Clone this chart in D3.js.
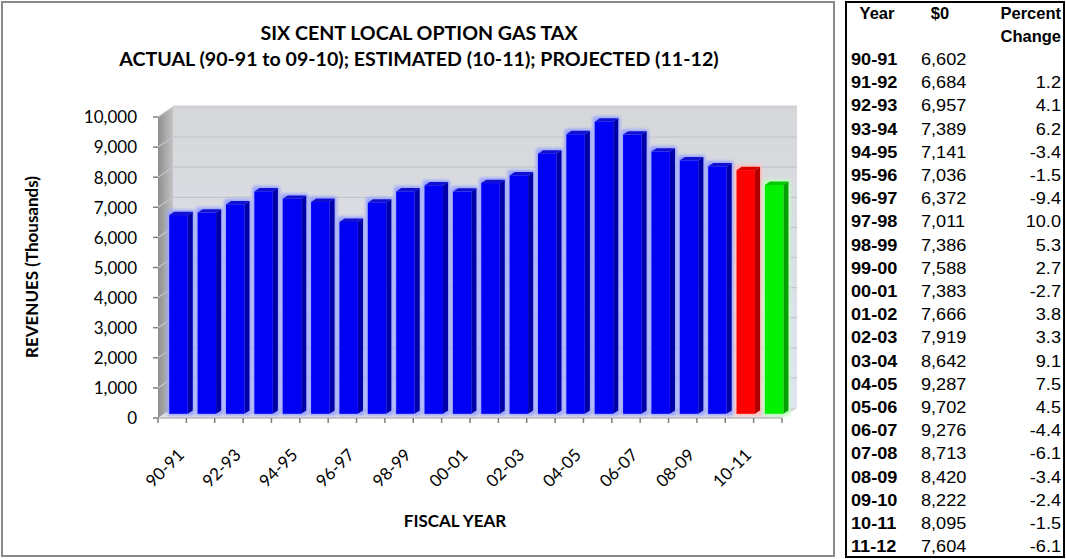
<!DOCTYPE html>
<html>
<head>
<meta charset="utf-8">
<script src="https://cdn.jsdelivr.net/npm/d3@7"></script>
<style>
  html, body { margin: 0; padding: 0; background: #ffffff; }
  svg { display: block; }
</style>
</head>
<body>
<svg id="chart" width="1066" height="559"></svg>
<script>
// Six cent local option gas tax revenues (thousands of dollars)
const years = ["90-91","91-92","92-93","93-94","94-95","95-96","96-97","97-98","98-99","99-00",
               "00-01","01-02","02-03","03-04","04-05","05-06","06-07","07-08","08-09","09-10",
               "10-11","11-12"];
const revenues = [6602, 6684, 6957, 7389, 7141, 7036, 6372, 7011, 7386, 7588,
                  7383, 7666, 7919, 8642, 9287, 9702, 9276, 8713, 8420, 8222,
                  8095, 7604];
const pctChange = [null, 1.2, 4.1, 6.2, -3.4, -1.5, -9.4, 10.0, 5.3, 2.7,
                   -2.7, 3.8, 3.3, 9.1, 7.5, 4.5, -4.4, -6.1, -3.4, -2.4,
                   -1.5, -6.1];
// actual, estimated (10-11), projected (11-12)
const status = years.map((y, i) => i < 20 ? "actual" : (i === 20 ? "estimated" : "projected"));
const yTicks = d3.range(0, 10001, 1000);
const xLabelYears = years.filter((d, i) => i % 2 === 0);
const titleLines = ["SIX CENT LOCAL OPTION  GAS TAX",
                    "ACTUAL (90-91 to 09-10); ESTIMATED (10-11); PROJECTED (11-12)"];
const tableHeader = [["Year", "$0", "Percent"], ["", "", "Change"]];

const palette = {
  actual:    { front: "#0000f4", side: "#0000a8", top: "#1010d0", glow: "#9aa4ff" },
  estimated: { front: "#ff0000", side: "#b00000", top: "#d80000", glow: "#ffc0c0" },
  projected: { front: "#00f000", side: "#00a000", top: "#00c800", glow: "#c0ffc0" }
};

const svg = d3.select("#chart");
const chartFont = "Lato, 'Open Sans', sans-serif";
const tableFont = "'Liberation Sans', Arial, sans-serif";

// ---- chart frame ----
svg.append("rect").attr("x", 2).attr("y", 2).attr("width", 832).attr("height", 554)
  .attr("fill", "#fff").attr("stroke", "#8a8a8a").attr("stroke-width", 2);

// ---- 3D geometry ----
const depth = { dx: 15, dy: -10 };
const x = d3.scaleBand().domain(years).range([158, 782]).paddingInner(0.35).paddingOuter(0.175);
const y = d3.scaleLinear().domain([0, 10000]).range([418, 117]);
const P = (px, py, z) => [px + depth.dx * z, py + depth.dy * z];
const xl = x.range()[0], xr = x.range()[1];
const y0 = y(0), yTop = y(10000);

const defs = svg.append("defs");
const wallGrad = defs.append("linearGradient").attr("id", "wallGrad")
  .attr("x1", 0).attr("y1", 0).attr("x2", 0).attr("y2", 1);
wallGrad.append("stop").attr("offset", 0).attr("stop-color", "#d6d7d9");
wallGrad.append("stop").attr("offset", 1).attr("stop-color", "#e1e5f3");
const sideWallGrad = defs.append("linearGradient").attr("id", "sideWallGrad")
  .attr("x1", 0).attr("y1", 0).attr("x2", 1).attr("y2", 0);
sideWallGrad.append("stop").attr("offset", 0).attr("stop-color", "#8e8e8e");
sideWallGrad.append("stop").attr("offset", 1).attr("stop-color", "#c4c4c4");
const floorGrad = defs.append("linearGradient").attr("id", "floorGrad")
  .attr("x1", 0).attr("y1", 0).attr("x2", 0).attr("y2", 1);
floorGrad.append("stop").attr("offset", 0).attr("stop-color", "#cfd1d6");
floorGrad.append("stop").attr("offset", 1).attr("stop-color", "#e6e6e6");
defs.append("filter").attr("id", "glow").attr("x", "-50%").attr("y", "-20%")
  .attr("width", "200%").attr("height", "140%")
  .append("feGaussianBlur").attr("stdDeviation", 1.6);

const poly = pts => pts.map(p => p.join(",")).join(" ");

// back wall
svg.append("polygon")
  .attr("points", poly([P(xl, yTop, 1), P(xr, yTop, 1), P(xr, y0, 1), P(xl, y0, 1)]))
  .attr("fill", "url(#wallGrad)");
// top rim of the back wall
svg.append("polygon")
  .attr("points", poly([P(xl, yTop, 1), P(xr, yTop, 1), [P(xr, yTop, 1)[0], P(xr, yTop, 1)[1] - 2], [P(xl, yTop, 1)[0], P(xl, yTop, 1)[1] - 2]]))
  .attr("fill", "#e4e4e4");
// side wall
svg.append("polygon")
  .attr("points", poly([P(xl, yTop, 0), P(xl, yTop, 1), P(xl, y0, 1), P(xl, y0, 0)]))
  .attr("fill", "url(#sideWallGrad)");
// floor
svg.append("polygon")
  .attr("points", poly([P(xl, y0, 0), P(xr, y0, 0), P(xr, y0, 1), P(xl, y0, 1)]))
  .attr("fill", "url(#floorGrad)");

// gridlines on back wall and side wall
const grid = svg.append("g");
yTicks.slice(1).forEach(t => {
  grid.append("polyline")
    .attr("points", poly([P(xl, y(t), 0), P(xl, y(t), 1), P(xr, y(t), 1)]))
    .attr("fill", "none").attr("stroke", "#c3c6cc").attr("stroke-width", 1.2);
});

// axis ticks
const axisG = svg.append("g");
yTicks.forEach(t => {
  axisG.append("line").attr("x1", xl - 5).attr("x2", xl).attr("y1", y(t)).attr("y2", y(t))
    .attr("stroke", "#7f7f7f").attr("stroke-width", 1.5);
  axisG.append("text").attr("x", 137).attr("y", y(t) + 2)
    .attr("text-anchor", "end").attr("dominant-baseline", "middle")
    .attr("font-family", chartFont).attr("font-size", 17).attr("fill", "#000")
    .text(d3.format(",")(t));
});
axisG.append("line").attr("x1", xl).attr("x2", xr).attr("y1", y0).attr("y2", y0)
  .attr("stroke", "#9a9a9a").attr("stroke-width", 1);
d3.range(years.length + 1).forEach(i => {
  const px = xl + x.step() * i;
  axisG.append("line").attr("x1", px).attr("x2", px).attr("y1", y0).attr("y2", y0 + 5)
    .attr("stroke", "#7f7f7f").attr("stroke-width", 1.5);
});

// bars
const zf = 0.42, zb = 0.76;
const bw = x.bandwidth();
const bars = svg.append("g");
years.forEach((yr, i) => {
  const v = revenues[i];
  const c = palette[status[i]];
  const [fx, fTop] = P(x(yr), y(v), zf);
  const fBot = P(x(yr), y0, zf)[1];
  const ddx = depth.dx * (zb - zf), ddy = depth.dy * (zb - zf);
  const g = bars.append("g");
  g.append("rect").attr("x", fx - 2).attr("y", fTop + ddy - 2)
    .attr("width", bw + ddx + 4).attr("height", fBot - fTop - ddy + 4)
    .attr("rx", 3).attr("fill", c.glow).attr("filter", "url(#glow)");
  g.append("polygon")
    .attr("points", poly([[fx + bw, fTop], [fx + bw + ddx, fTop + ddy], [fx + bw + ddx, fBot + ddy], [fx + bw, fBot]]))
    .attr("fill", c.side);
  g.append("polygon")
    .attr("points", poly([[fx, fTop], [fx + bw, fTop], [fx + bw + ddx, fTop + ddy], [fx + ddx, fTop + ddy]]))
    .attr("fill", c.top);
  g.append("rect").attr("x", fx).attr("y", fTop).attr("width", bw).attr("height", fBot - fTop)
    .attr("fill", c.front);
});

// x tick labels
const xLab = svg.append("g");
xLabelYears.forEach(yr => {
  const cx = x(yr) + bw / 2;
  xLab.append("text")
    .attr("transform", `translate(${cx + 13},${456}) rotate(-45)`)
    .attr("text-anchor", "end")
    .attr("font-family", chartFont).attr("font-size", 17).attr("fill", "#000")
    .text(yr);
});

// titles
svg.append("text").attr("x", 419).attr("y", 40).attr("text-anchor", "middle")
  .attr("font-family", chartFont).attr("font-weight", "bold").attr("font-size", 19.6)
  .text(titleLines[0]);
svg.append("text").attr("x", 419).attr("y", 66).attr("text-anchor", "middle")
  .attr("font-family", chartFont).attr("font-weight", "bold").attr("font-size", 19.6)
  .text(titleLines[1]);
svg.append("text").attr("transform", "translate(38,267) rotate(-90)").attr("text-anchor", "middle")
  .attr("font-family", chartFont).attr("font-weight", "bold").attr("font-size", 17)
  .text("REVENUES (Thousands)");
svg.append("text").attr("x", 455).attr("y", 527).attr("text-anchor", "middle")
  .attr("font-family", chartFont).attr("font-weight", "bold").attr("font-size", 17)
  .text("FISCAL YEAR");

// ---- data table ----
const tbl = svg.append("g");
tbl.append("rect").attr("x", 846).attr("y", 2).attr("width", 218).attr("height", 555)
  .attr("fill", "#fff").attr("stroke", "#000").attr("stroke-width", 2);
const fs = 16.5, sx = 1.1;
const cell = (px, py, txt, anchor, bold, stretch) => tbl.append("text")
  .attr("transform", `translate(${px},${py}) scale(${stretch},1)`)
  .attr("text-anchor", anchor)
  .attr("font-family", tableFont).attr("font-weight", bold ? "bold" : "normal")
  .attr("font-size", fs).attr("fill", "#000").text(txt);
cell(877, 19, tableHeader[0][0], "middle", true, 1);
cell(940, 19, tableHeader[0][1], "middle", true, 1);
cell(1061, 19, tableHeader[0][2], "end", true, 1);
cell(1061, 42, tableHeader[1][2], "end", true, 1);
const rowY = i => 65 + 23.2 * i;
years.forEach((yr, i) => {
  cell(851, rowY(i), yr, "start", true, sx);
  cell(921, rowY(i), d3.format(",")(revenues[i]), "start", false, sx);
  if (pctChange[i] !== null) cell(1061, rowY(i), pctChange[i].toFixed(1), "end", false, sx);
});
</script>
</body>
</html>
